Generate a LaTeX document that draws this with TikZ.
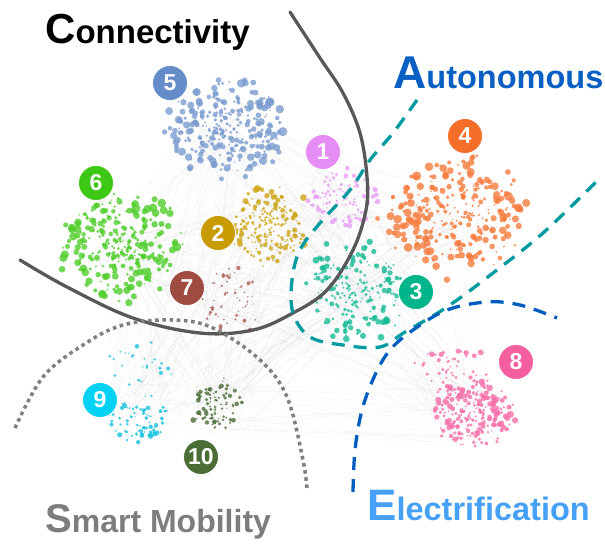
\documentclass[tikz,border=0pt]{standalone}
\usepackage{fontspec}
\setsansfont{Liberation Sans}
\definecolor{cSolid}{RGB}{88,88,88}
\definecolor{cTeal}{RGB}{0,155,160}
\definecolor{cBlueD}{RGB}{0,95,190}
\definecolor{cDot}{RGB}{128,128,128}
\definecolor{cAuto}{RGB}{10,95,195}
\definecolor{cElec}{RGB}{70,160,245}
\definecolor{cSmart}{RGB}{125,125,125}
\definecolor{k1}{RGB}{230,140,245}
\definecolor{k2}{RGB}{200,155,0}
\definecolor{k3}{RGB}{0,180,140}
\definecolor{k4}{RGB}{245,110,40}
\definecolor{k5}{RGB}{100,140,200}
\definecolor{k6}{RGB}{60,200,20}
\definecolor{k7}{RGB}{160,75,65}
\definecolor{k8}{RGB}{245,95,160}
\definecolor{k9}{RGB}{0,210,245}
\definecolor{k10}{RGB}{75,110,55}
\newcommand\dotcloud[8]{%
 \foreach \i in {1,...,#6}{%
  \pgfmathsetmacro\ang{360*rnd}%
  \pgfmathsetmacro\dd{(0.01+0.99*rnd)^0.62*(0.8+0.35*rnd)}%
  \pgfmathsetmacro\sz{#7+(#8-#7)*(0.25+0.75*min(\dd,1))*rnd}%
  \fill[#1,opacity=.8] ({#2+#4*\dd*cos(\ang)},{#3+#5*\dd*sin(\ang)}) circle[radius=\sz pt];
 }}
\def\CX{{225,120,268,343,455,355,230,470,140,218}}
\def\CY{{127,245,225,195,215,290,300,415,410,405}}
\tikzset{
 badge/.style={circle,fill=#1,draw=white,line width=0.8pt,minimum size=35pt,inner sep=0pt,
   text=white,font=\sffamily\bfseries\fontsize{23}{23}\selectfont},
 edge/.style={gray,opacity=0.09,line width=0.3pt},
 bigword/.style={anchor=base west,inner sep=0pt,font=\sffamily\bfseries}
}
\begin{document}
\begin{tikzpicture}[x=1pt,y=-1pt]
\useasboundingbox (0,0) rectangle (605,544);
\pgfmathsetseed{4242}
% faint background edges
\foreach \i in {1,...,450}{%
  \pgfmathtruncatemacro\ka{int(rnd*9.999)}%
  \pgfmathtruncatemacro\kb{int(rnd*9.999)}%
  \pgfmathsetmacro\xa{\CX[\ka]+35*rand}%
  \pgfmathsetmacro\ya{\CY[\ka]+30*rand}%
  \pgfmathsetmacro\xb{\CX[\kb]+35*rand}%
  \pgfmathsetmacro\yb{\CY[\kb]+30*rand}%
  \draw[edge] (\xa,\ya) -- (\xb,\yb);
}
% clusters
\dotcloud{k5!85!white}{225}{127}{58}{48}{300}{0.8}{4.6}
\dotcloud{k6!90!white}{120}{245}{58}{52}{300}{0.8}{4.6}
\dotcloud{k2!90!white}{268}{225}{40}{38}{220}{0.6}{3.4}
\dotcloud{k1!85!white}{343}{197}{33}{30}{110}{0.6}{3.0}
\dotcloud{k4!90!white}{455}{215}{68}{58}{300}{0.8}{5.0}
\dotcloud{k3!90!white}{355}{290}{47}{49}{210}{0.7}{3.5}
\dotcloud{k7!90!white}{230}{300}{28}{38}{55}{0.6}{2.6}
\dotcloud{k8!90!white}{472}{415}{40}{36}{230}{0.7}{3.8}
\dotcloud{k8!90!white}{455}{370}{38}{26}{55}{0.7}{3.2}
\dotcloud{k9!80!gray}{138}{420}{28}{23}{75}{0.7}{3.0}
\dotcloud{k9!80!gray}{140}{370}{33}{28}{28}{0.7}{2.6}
\dotcloud{k10}{218}{405}{26}{26}{90}{0.6}{3.0}
% region curves
\draw[cSolid,line width=3.3pt,line cap=round] plot[smooth,tension=0.6] coordinates
 {(290,12) (320,58) (343,93) (360,133) (367,177) (366,210) (353,250) (327,290) (293,313) (253,330) (200,333) (133,318) (67,287) (20,260)};
\draw[cTeal,line width=3.3pt,dash pattern=on 13pt off 9pt] plot[smooth,tension=0.6] coordinates
 {(417,100) (393,133) (370,160) (350,190) (320,223) (300,250) (292,280) (293,313) (310,337) (343,345) (380,347) (405,332) (447,307) (493,273) (543,233) (598,180)};
\draw[cBlueD,line width=3.3pt,dash pattern=on 13pt off 9pt] plot[smooth,tension=0.6] coordinates
 {(353,492) (355,450) (362,410) (375,375) (390,350) (413,330) (447,310) (487,302) (520,305) (557,318)};
\draw[cDot,line width=3.5pt,dash pattern=on 3.6pt off 3.6pt] plot[smooth,tension=0.6] coordinates
 {(15,428) (43,377) (83,345) (123,325) (173,320) (213,328) (260,360) (287,397) (303,460) (307,490)};
% badges
\node[badge=k1] (b1) at (323,152) {1};
\node[badge=k2] (b2) at (218,233) {2};
\node[badge=k3] (b3) at (416,292) {3};
\node[badge=k4] (b4) at (465,136) {4};
\node[badge=k5] (b5) at (170,83) {5};
\node[badge=k6] (b6) at (96,183) {6};
\node[badge=k7] (b7) at (187,288) {7};
\node[badge=k8] (b8) at (516,362) {8};
\node[badge=k9] (b9) at (100,400) {9};
\node[badge=k10] (b10) at (201,457) {10};
% titles
\node[bigword,text=black] (tc) at (45,43) {{\fontsize{42}{42}\selectfont C}{\fontsize{33}{33}\selectfont onnectivity}};
\node[bigword,text=cAuto] (ta) at (393,88) {{\fontsize{46}{46}\selectfont A}{\fontsize{32.5}{32.5}\selectfont utonomous}};
\node[bigword,text=cElec] (te) at (367,520) {{\fontsize{44}{44}\selectfont E}{\fontsize{32.5}{32.5}\selectfont lectrification}};
\node[bigword,text=cSmart] (ts) at (45,532) {{\fontsize{40}{40}\selectfont S}{\fontsize{32}{32}\selectfont mart Mobility}};
\end{tikzpicture}
\end{document}
